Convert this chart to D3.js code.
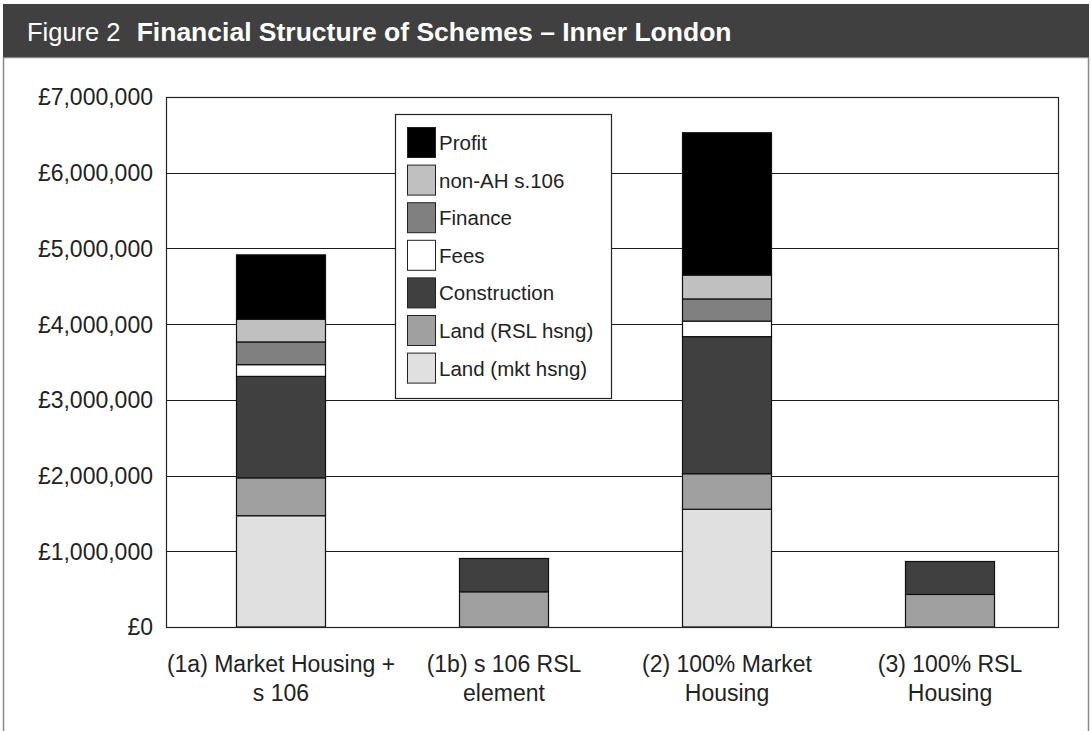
<!DOCTYPE html>
<html>
<head>
<meta charset="utf-8">
<script src="https://cdn.jsdelivr.net/npm/d3@7"></script>
<style>
  body { margin: 0; background: #fff; }
  svg { display: block; font-family: "Liberation Sans", Arial, sans-serif; }
</style>
</head>
<body>
<div id="chart-area"></div>
<script>
// Schemes (x categories), each label split over two lines
const schemes = ["1a", "1b", "2", "3"]
const schemeLabels = [
  ["(1a) Market Housing +", "s 106"],
  ["(1b) s 106 RSL", "element"],
  ["(2) 100% Market", "Housing"],
  ["(3) 100% RSL", "Housing"]
]

// Cost components, bottom of the stack first
const landMkt      = [1470000, 0, 1555000, 0]
const landRsl      = [500000, 465000, 470000, 430000]
const construction = [1340000, 440000, 1810000, 435000]
const fees         = [155000, 0, 205000, 0]
const finance      = [300000, 0, 293000, 0]
const nonAH        = [300000, 0, 315000, 0]
const profit       = [850000, 0, 1880000, 0]

const seriesNames = ["Land (mkt hsng)", "Land (RSL hsng)", "Construction", "Fees", "Finance", "non-AH s.106", "Profit"]
const seriesFills = ["#e0e0e0", "#a0a0a0", "#404040", "#ffffff", "#808080", "#c0c0c0", "#000000"]
const yTicks = [0, 1000000, 2000000, 3000000, 4000000, 5000000, 6000000, 7000000]

const W = 1091, H = 731
const PLOT = { LEFT: 166, RIGHT: 1058, TOP: 97, BOTTOM: 627 }

const svg = d3.select("#chart-area").append("svg")
  .attr("width", W)
  .attr("height", H)

// Title band + frame
svg.append("rect")
  .attr("x", 3.5).attr("y", 57.5)
  .attr("width", 1085).attr("height", 700)
  .attr("fill", "none")
  .attr("stroke", "#888")
  .attr("stroke-width", 1.5)
svg.append("rect")
  .attr("x", 3).attr("y", 4)
  .attr("width", 1086).attr("height", 53)
  .attr("fill", "#404040")

const title = svg.append("text")
  .attr("x", 27)
  .attr("y", 41)
  .attr("fill", "#fff")
  .attr("font-size", 25.5)
title.append("tspan").text("Figure 2 ")
title.append("tspan").attr("dx", 9).attr("font-size", 26.5).attr("font-weight", "bold")
  .text("Financial Structure of Schemes – Inner London")

// Build table for stacking
const table = schemes.map((s, i) => ({
  scheme: s,
  "Land (mkt hsng)": landMkt[i],
  "Land (RSL hsng)": landRsl[i],
  "Construction": construction[i],
  "Fees": fees[i],
  "Finance": finance[i],
  "non-AH s.106": nonAH[i],
  "Profit": profit[i]
}))

const stacked = d3.stack().keys(seriesNames)(table)

const x = d3.scaleBand()
  .domain(schemes)
  .range([PLOT.LEFT + 3.5, PLOT.RIGHT + 3.5])
  .paddingInner(0.6)
  .paddingOuter(0.3)

const y = d3.scaleLinear()
  .domain([0, 7000000])
  .range([PLOT.BOTTOM, PLOT.TOP])

const color = d3.scaleOrdinal().domain(seriesNames).range(seriesFills)

// Gridlines
svg.append("g")
  .selectAll("line")
  .data(yTicks)
  .enter().append("line")
    .attr("x1", PLOT.LEFT)
    .attr("x2", PLOT.RIGHT)
    .attr("y1", d => Math.round(y(d)) + 0.5)
    .attr("y2", d => Math.round(y(d)) + 0.5)
    .attr("stroke", "#1a1a1a")
    .attr("stroke-width", 1)

// Y axis labels
const leftAxis = d3.axisLeft(y)
  .tickValues(yTicks)
  .tickSize(0)
  .tickPadding(13)
  .tickFormat(d => "£" + d3.format(",")(d))
const yAxis = svg.append("g")
  .attr("transform", `translate(${PLOT.LEFT}, 0.5)`)
  .call(leftAxis)
yAxis.select(".domain").remove()
yAxis.selectAll("text")
  .attr("font-size", 23)
  .attr("font-family", "Liberation Sans, Arial, sans-serif")
  .attr("fill", "#222")

// Bars
svg.append("g")
  .selectAll("g")
  .data(stacked)
  .enter().append("g")
    .attr("fill", d => color(d.key))
  .selectAll("rect")
  .data(d => d.filter(p => p[1] - p[0] > 0))
  .enter().append("rect")
    .attr("x", d => Math.round(x(d.data.scheme)) + 0.5)
    .attr("y", d => y(d[1]))
    .attr("width", Math.round(x.bandwidth()))
    .attr("height", d => y(d[0]) - y(d[1]))
    .attr("stroke", "#111")
    .attr("stroke-width", 1.2)

// Plot border
svg.append("rect")
  .attr("x", PLOT.LEFT + 0.5)
  .attr("y", PLOT.TOP + 0.5)
  .attr("width", PLOT.RIGHT - PLOT.LEFT)
  .attr("height", PLOT.BOTTOM - PLOT.TOP)
  .attr("fill", "none")
  .attr("stroke", "#222")
  .attr("stroke-width", 1.2)

// X labels
const xLabels = svg.append("g")
  .selectAll("text")
  .data(schemes)
  .enter().append("text")
    .attr("text-anchor", "middle")
    .attr("font-size", 23)
    .attr("fill", "#222")
    .attr("x", d => x(d) + x.bandwidth() / 2)
    .attr("y", 672)
xLabels.selectAll("tspan")
  .data((d, i) => schemeLabels[i])
  .enter().append("tspan")
    .attr("x", function () { return this.parentNode.getAttribute("x") })
    .attr("dy", (d, i) => i === 0 ? 0 : 29)
    .text(d => d)

// Legend
const legend = svg.append("g").attr("transform", "translate(395, 114)")
legend.append("rect")
  .attr("x", 0.5).attr("y", 0.5)
  .attr("width", 216).attr("height", 284)
  .attr("fill", "#fff")
  .attr("stroke", "#222")
  .attr("stroke-width", 1.2)

const legendItems = seriesNames.slice().reverse()
const rows = legend.selectAll(".row")
  .data(legendItems)
  .enter().append("g")
    .attr("class", "row")
    .attr("transform", (d, i) => `translate(12, ${13 + i * 37.6})`)
rows.append("rect")
  .attr("x", 0.5).attr("y", 0.5)
  .attr("width", 28).attr("height", 30)
  .attr("fill", d => color(d))
  .attr("stroke", "#222")
  .attr("stroke-width", 1)
rows.append("text")
  .attr("x", 32)
  .attr("y", 23)
  .attr("font-size", 20.5)
  .attr("fill", "#222")
  .text(d => d)
</script>
</body>
</html>
